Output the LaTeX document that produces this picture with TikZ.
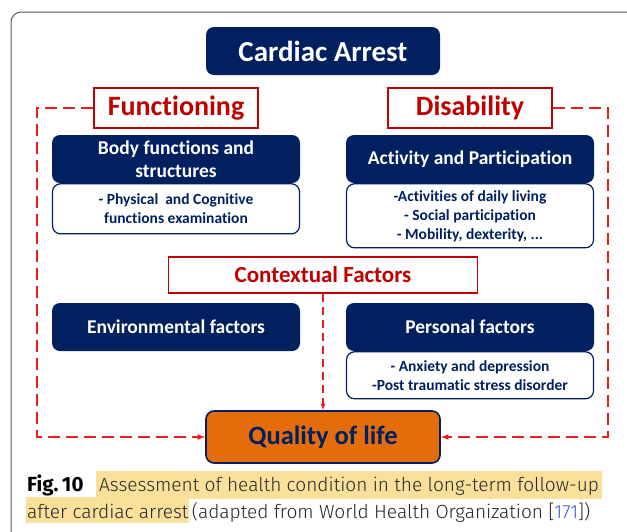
\documentclass[tikz,border=0pt]{standalone}
\usepackage{fontspec}
\setmainfont{Carlito}[Ligatures=NoCommon]
\newfontfamily\capfont{Fira Sans Light}
\newfontfamily\capbold{Fira Sans}
\usetikzlibrary{positioning}
\definecolor{navy}{RGB}{0,32,96}
\definecolor{darkred}{RGB}{192,0,0}
\definecolor{dashred}{RGB}{235,30,30}
\definecolor{qolorange}{RGB}{228,108,10}
\definecolor{hilite}{RGB}{250,225,155}
\definecolor{refblue}{RGB}{60,90,210}
\newcommand{\fs}[1]{\fontsize{#1}{#1}\selectfont}

\begin{document}
\begin{tikzpicture}[>=latex, x=1pt, y=-1pt,
  darkbox/.style={fill=navy, rounded corners=8pt, text=white, font=\bfseries\fs{19.5}, minimum width=248pt, minimum height=48pt, align=center, inner sep=0pt},
  litebox/.style={draw=navy, line width=1.2pt, fill=white, rounded corners=8pt, text=navy, font=\bfseries\fs{15.5}, minimum width=247pt, align=center, inner sep=0pt},
  redbox/.style={draw=darkred, line width=1.6pt, fill=white, text=darkred, font=\bfseries\fs{28}, minimum height=40pt, inner sep=0pt},
  dashline/.style={draw=dashred, line width=1.6pt, dash pattern=on 12pt off 6pt}]

\useasboundingbox (0,0) rectangle (627,531);
\draw[gray!70!black, line width=1pt, rounded corners=10pt] (11,12) rectangle (660,560);

\draw(323,51) node[darkbox, font=\bfseries\fs{29}, minimum width=234pt] (arrest) {Cardiac Arrest};
\draw(176,108) node[redbox, minimum width=164pt] (func) {Functioning};
\draw(470,108) node[redbox, minimum width=164pt] (disab) {Disability};

\draw(176,159) node[darkbox] (body) {Body functions and\\[3pt]structures};
\node[litebox, minimum height=50pt, below=0pt of body] (bodyx) {- Physical\ \ and Cognitive\\[3.5pt]functions examination};
\draw(470,159) node[darkbox] (activ) {Activity and Participation};
\node[litebox, minimum height=64pt, below=0pt of activ] (activx) {-Activities of daily living\\[3.5pt]- Social participation\\[3.5pt]- Mobility, dexterity, ...};

\draw(323,275) node[redbox, font=\bfseries\fs{23}, minimum width=309pt, minimum height=36pt] (context) {Contextual Factors};
\draw(176,327) node[darkbox] (environ) {Environmental factors};
\draw(470,327) node[darkbox] (person) {Personal factors};
\node[litebox, minimum height=47pt, below=0pt of person] (personx) {- Anxiety and depression\\[3.5pt]-Post traumatic stress disorder};

\draw(323,437) node[draw=navy, line width=1.6pt, fill=qolorange, rounded corners=8pt, text=navy, font=\bfseries\fs{26.5}, minimum width=234pt, minimum height=52pt] (qol) {Quality of life};

\coordinate (lcorner) at (37,300);
\coordinate (rcorner) at (608,300);
\draw[dashline, ->] (func.west) -| (lcorner) |- (qol.west);
\draw[dashline, ->] (disab.east) -| (rcorner) |- (qol.east);
\draw[dashline, line width=1.3pt, dash pattern=on 8pt off 5pt, ->] (context.south) -- (qol.north);

\draw(27,491) node[anchor=base west, inner sep=0pt, font=\capbold\bfseries\fs{20.5}] (figlab) {Fig.\,10};
\draw(96,491) node[anchor=base west, fill=hilite, inner xsep=3pt, inner ysep=3pt, text height=17pt, text depth=5pt, text=black!85, font=\capfont\fs{19.1}] (cap1) {Assessment of health condition in the long-term follow-up};
\draw(26,518) node[anchor=base west, fill=hilite, inner xsep=1pt, inner ysep=3pt, text height=18pt, text depth=2pt, text=black!85, font=\capfont\fs{19.1}] (cap2) {after cardiac arrest};
\node[anchor=base west, inner xsep=2pt, text=black!85, font=\capfont\fs{19.1}] (cap3) at (cap2.base east) {(adapted from World Health Organization [\textcolor{refblue}{171}])};

\end{tikzpicture}
\end{document}
